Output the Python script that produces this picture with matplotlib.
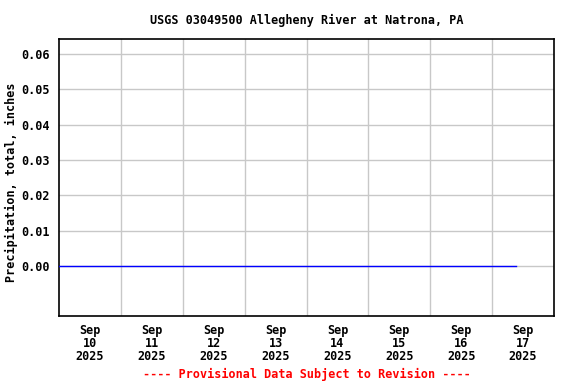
import matplotlib
matplotlib.use("Agg")
import matplotlib.pyplot as plt
import pandas as pd

title = "USGS 03049500 Allegheny River at Natrona, PA"
ylabel = "Precipitation, total, inches"
footer = "---- Provisional Data Subject to Revision ----"

times = pd.to_datetime(["2025-09-10 00:00", "2025-09-17 09:15"])
values = [0.00, 0.00]

day_labels = ["Sep\n10\n2025", "Sep\n11\n2025", "Sep\n12\n2025", "Sep\n13\n2025",
              "Sep\n14\n2025", "Sep\n15\n2025", "Sep\n16\n2025", "Sep\n17\n2025"]
label_times = pd.date_range("2025-09-10 12:00", periods=8, freq="D")
grid_times = pd.date_range("2025-09-11 00:00", periods=7, freq="D")
yticks = [0.00, 0.01, 0.02, 0.03, 0.04, 0.05, 0.06]

plt.rcParams['font.family'] = ['DejaVu Sans Mono']
plt.rcParams['font.weight'] = 'bold'
fs = 8.5

fig = plt.figure(figsize=(5.76, 3.84), dpi=100)
ax = fig.add_axes([59/576, 1 - 316.3/384, (554-59)/576, (316.3-39.3)/384])

ax.plot(times, values, color="#0000ff", linewidth=1.0, zorder=3)

ax.set_xlim(pd.Timestamp("2025-09-10 00:00"), pd.Timestamp("2025-09-18 00:00"))
ax.set_ylim(-0.01425, 0.06416)

ax.set_xticks(label_times)
ax.set_xticklabels(day_labels, fontsize=fs, fontweight='bold', linespacing=1.0)
ax.set_xticks(grid_times, minor=True)
ax.set_yticks(yticks)
ax.set_yticklabels([f"{v:.2f}" for v in yticks], fontsize=fs, fontweight='bold')

ax.tick_params(axis='both', which='both', length=0)
ax.tick_params(axis='x', which='major', pad=5.5)
ax.tick_params(axis='y', which='major', pad=6.5)

ax.grid(False)
ax.xaxis.grid(True, which='minor', color="#c8c8c8", linewidth=1.0)
ax.yaxis.grid(True, which='major', color="#c8c8c8", linewidth=1.0)
ax.set_axisbelow(True)
for s in ax.spines.values():
    s.set_color("black")
    s.set_linewidth(1.2)

fig.text(306.5/576, 1 - 20/384, title, ha='center', va='center',
         fontsize=fs, fontweight='bold')
fig.text(11/576, 1 - 182/384, ylabel, rotation=90, ha='center', va='center',
         fontsize=fs, fontweight='bold')
fig.text(306.5/576, 1 - 374.5/384, footer, ha='center', va='center',
         fontsize=fs, fontweight='bold', color="#ff0000")

fig.savefig("out.png", dpi=100)
